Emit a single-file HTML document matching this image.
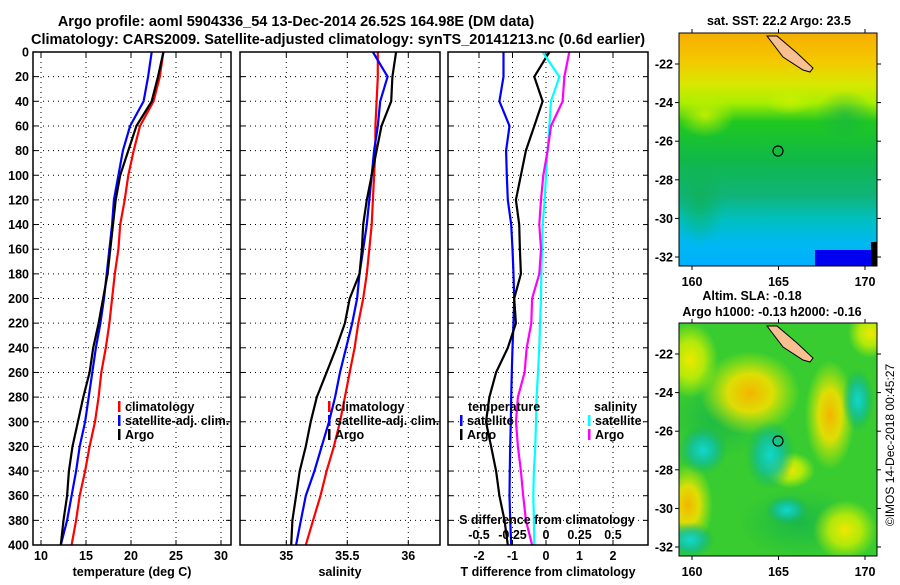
<!DOCTYPE html>
<html><head><meta charset="utf-8"><style>
body{margin:0;background:#fff;width:900px;height:580px;overflow:hidden}
svg text{font-family:"Liberation Sans",Arial,sans-serif;font-weight:bold;fill:#000}
</style></head><body>
<svg id="chart" width="900" height="580" viewBox="0 0 900 580" xmlns="http://www.w3.org/2000/svg">
<defs>
<linearGradient id="sstg" x1="0" y1="0" x2="0" y2="1">
<stop offset="0" stop-color="#f7ae00"/><stop offset="0.12" stop-color="#f4c800"/><stop offset="0.22" stop-color="#d8e800"/><stop offset="0.3" stop-color="#a8ee00"/><stop offset="0.38" stop-color="#20c820"/><stop offset="0.55" stop-color="#10b84a"/><stop offset="0.7" stop-color="#10b47a"/><stop offset="0.8" stop-color="#00c0c0"/><stop offset="0.9" stop-color="#00b8f0"/><stop offset="1" stop-color="#00b0ff"/></linearGradient>
<radialGradient id="yb"><stop offset="0" stop-color="#f4b400"/><stop offset="0.45" stop-color="#f0e000" stop-opacity="0.9"/><stop offset="1" stop-color="#c8f000" stop-opacity="0"/></radialGradient>
<radialGradient id="yl"><stop offset="0" stop-color="#f0e800"/><stop offset="0.5" stop-color="#d0f000" stop-opacity="0.8"/><stop offset="1" stop-color="#c8f000" stop-opacity="0"/></radialGradient>
<radialGradient id="cb"><stop offset="0" stop-color="#10d8d0"/><stop offset="0.5" stop-color="#10c0a0" stop-opacity="0.8"/><stop offset="1" stop-color="#10b060" stop-opacity="0"/></radialGradient>
<radialGradient id="dg"><stop offset="0" stop-color="#10b050"/><stop offset="1" stop-color="#10b050" stop-opacity="0"/></radialGradient>
<radialGradient id="ylg"><stop offset="0" stop-color="#c8f000" stop-opacity="0.9"/><stop offset="1" stop-color="#c8f000" stop-opacity="0"/></radialGradient>
</defs>
<g id="titles">
<text x="296" y="26" font-size="14.5" text-anchor="middle">Argo profile: aoml 5904336_54 13-Dec-2014 26.52S 164.98E (DM data)</text>
<text x="338" y="44" font-size="14.5" text-anchor="middle">Climatology: CARS2009. Satellite-adjusted climatology: synTS_20141213.nc (0.6d earlier)</text>
</g>
<g id="panels"></g>
<g id="maps">
 <text x="779" y="25" font-size="12.5" text-anchor="middle">sat. SST: 22.2 Argo: 23.5</text>
 <rect x="679" y="33" width="198" height="233" fill="url(#sstg)"/>
 <ellipse cx="705" cy="115" rx="30" ry="22" fill="url(#ylg)"/>
 <ellipse cx="790" cy="100" rx="25" ry="15" fill="url(#ylg)"/>
 <ellipse cx="845" cy="115" rx="30" ry="25" fill="url(#dg)" opacity="0.6"/>
 <ellipse cx="700" cy="200" rx="25" ry="45" fill="url(#dg)" opacity="0.7"/>
 <rect x="815" y="250" width="62" height="16" fill="#0000f0"/>
 <rect x="871" y="242" width="6" height="24" fill="#000"/>
 <polygon points="767,36 777,36 797,53 813,68 810,72 803,70 783,57" fill="#f8c090" stroke="#000" stroke-width="1"/>
 <circle cx="778" cy="151" r="5" fill="none" stroke="#000" stroke-width="1.2"/>
 <rect x="679" y="33" width="198" height="233" fill="none" stroke="#000" stroke-width="1"/>
 <text x="752" y="300" font-size="12.5" text-anchor="middle">Altim. SLA: -0.18</text>
 <text x="772" y="316" font-size="12.5" text-anchor="middle">Argo h1000: -0.13 h2000: -0.16</text>
 <svg x="679" y="323" width="198" height="233" overflow="hidden">
 <rect x="0" y="0" width="198" height="233" fill="#38cc30"/>
 <ellipse cx="40" cy="95" rx="50" ry="40" fill="url(#dg)" opacity="0.7"/>
 <ellipse cx="120" cy="200" rx="60" ry="35" fill="url(#dg)" opacity="0.7"/>
 <ellipse cx="71" cy="70" rx="50" ry="42" fill="url(#yb)"/>
 <ellipse cx="151" cy="92" rx="25" ry="55" fill="url(#yb)"/>
 <ellipse cx="11" cy="37" rx="28" ry="38" fill="url(#yl)"/>
 <ellipse cx="9" cy="182" rx="25" ry="42" fill="url(#yb)"/>
 <ellipse cx="166" cy="207" rx="32" ry="30" fill="url(#yl)"/>
 <ellipse cx="191" cy="10" rx="22" ry="25" fill="url(#yl)"/>
 <ellipse cx="111" cy="147" rx="25" ry="18" fill="url(#yl)"/>
 <ellipse cx="24" cy="127" rx="25" ry="25" fill="url(#cb)"/>
 <ellipse cx="91" cy="132" rx="25" ry="35" fill="url(#cb)"/>
 <ellipse cx="179" cy="77" rx="16" ry="32" fill="url(#cb)"/>
 <ellipse cx="11" cy="217" rx="25" ry="18" fill="url(#cb)"/>
 <ellipse cx="108" cy="187" rx="22" ry="15" fill="url(#cb)"/>
 </svg>
 <polygon points="767,326 777,326 797,343 813,358 810,362 803,360 783,347" fill="#f8c090" stroke="#000" stroke-width="1"/>
 <circle cx="778" cy="441" r="5" fill="none" stroke="#000" stroke-width="1.2"/>
 <rect x="679" y="323" width="198" height="233" fill="none" stroke="#000" stroke-width="1"/>
 <text transform="translate(894,445) rotate(-90)" font-size="12" text-anchor="middle" style="font-weight:normal">©IMOS 14-Dec-2018 00:45:27</text>
</g>
</svg>
<script>
const depths=[0,20,40,60,80,100,120,140,160,180,200,220,240,260,280,300,320,340,360,380,400];
const tempClim=[23.6,23.2,22.5,21.0,20.3,19.7,19.3,18.8,18.6,18.2,17.9,17.6,17.2,16.7,16.4,16.0,15.4,14.9,14.3,13.9,13.4];
const tempSat=[22.3,21.9,21.4,19.9,19.1,18.6,18.1,17.9,17.6,17.3,17.0,16.6,16.1,15.7,15.3,14.9,14.3,13.9,13.4,12.9,12.2];
const tempArgo=[23.6,23.0,22.3,20.6,19.7,18.8,18.3,18.0,17.7,17.4,16.9,16.4,15.8,15.4,14.7,14.1,13.5,13.1,12.9,12.5,12.2];
const salClim=[35.75,35.75,35.74,35.73,35.73,35.72,35.71,35.70,35.68,35.66,35.63,35.59,35.56,35.52,35.48,35.44,35.39,35.33,35.28,35.22,35.16];
const salSat=[35.71,35.83,35.77,35.75,35.72,35.70,35.68,35.66,35.63,35.60,35.58,35.54,35.49,35.44,35.40,35.35,35.29,35.23,35.16,35.12,35.08];
const salArgo=[35.90,35.87,35.86,35.78,35.74,35.70,35.66,35.63,35.62,35.60,35.52,35.48,35.41,35.33,35.25,35.20,35.16,35.11,35.08,35.05,35.04];
const tDiffSat=[-1.27,-1.27,-1.39,-1.09,-1.19,-1.17,-1.14,-1.04,-1.0,-0.97,-0.95,-0.97,-1.0,-1.02,-1.04,-1.05,-1.07,-1.08,-1.09,-1.07,-1.04];
const tDiffArgo=[0.1,-0.35,-0.1,-0.35,-0.6,-0.75,-0.9,-0.8,-0.78,-0.75,-0.95,-0.9,-1.14,-1.49,-1.69,-1.79,-1.64,-1.49,-1.39,-1.24,-1.14];
const sDiffSat=[-0.025,0.1,0.037,0.025,0.012,0,-0.01,-0.025,-0.03,-0.035,-0.037,-0.045,-0.05,-0.06,-0.07,-0.075,-0.08,-0.09,-0.095,-0.09,-0.087];
const sDiffArgo=[0.174,0.137,0.124,0.037,0.012,-0.02,-0.037,-0.05,-0.037,-0.05,-0.104,-0.11,-0.144,-0.16,-0.21,-0.224,-0.21,-0.187,-0.17,-0.15,-0.104];
const depthTicks=[0,20,40,60,80,100,120,140,160,180,200,220,240,260,280,300,320,340,360,380,400];
const tempTicks=[10,15,20,25,30];
const salTicks=[35,35.5,36];
const tDiffTicks=[-2,-1,0,1,2];
const sDiffTicks=[-0.5,-0.25,0,0.25,0.5];

const NS='http://www.w3.org/2000/svg';
const root=document.getElementById('panels');
function el(tag,attrs,parent,txt){const e=document.createElementNS(NS,tag);for(const k in attrs)e.setAttribute(k,attrs[k]);if(txt!==undefined)e.textContent=txt;(parent||root).appendChild(e);return e;}
const Y0=52,Y1=545;
function yS(d){return Y0+(d/400)*(Y1-Y0);}
function line(xs,xf,color,name,g){
  const pts=depths.map((d,i)=>xf(xs[i]).toFixed(1)+','+yS(d).toFixed(1)).join(' ');
  const p=el('polyline',{points:pts,fill:'none',stroke:color,'stroke-width':2.2,'stroke-linejoin':'miter'},g);
  
  
}
function panel(x0,x1,lo,hi,ticks,fmt,name,label,showY){
  const g=el('g',{});
  
  
  const xf=v=>x0+(v-lo)/(hi-lo)*(x1-x0);
  el('rect',{x:x0,y:Y0,width:x1-x0,height:Y1-Y0,fill:'#fff'},g);
  depthTicks.forEach(d=>{
    el('line',{x1:x0,x2:x1,y1:yS(d),y2:yS(d),stroke:'#000','stroke-width':1,'stroke-dasharray':'1,4'},g);
    el('line',{x1:x0,x2:x0+5,y1:yS(d),y2:yS(d),stroke:'#000'},g);
    el('line',{x1:x1-5,x2:x1,y1:yS(d),y2:yS(d),stroke:'#000'},g);
    if(showY){const t=el('text',{x:x0-4,y:yS(d)+4.5,'font-size':12.5,'text-anchor':'end'},g,String(d));
      }
  });
  ticks.forEach(v=>{
    el('line',{x1:xf(v),x2:xf(v),y1:Y0,y2:Y1,stroke:'#000','stroke-width':1,'stroke-dasharray':'1,4'},g);
    el('line',{x1:xf(v),x2:xf(v),y1:Y1,y2:Y1-5,stroke:'#000'},g);
    el('line',{x1:xf(v),x2:xf(v),y1:Y0,y2:Y0+5,stroke:'#000'},g);
    const t=el('text',{x:xf(v),y:Y1+15,'font-size':12.5,'text-anchor':'middle'},g,fmt(v));
    
  });
  const t=el('text',{x:(x0+x1)/2,y:Y1+31,'font-size':12.5,'text-anchor':'middle'},g,label);
  
  return {g,xf,x0,x1};
}
function frame(p){el('rect',{x:p.x0,y:Y0,width:p.x1-p.x0,height:Y1-Y0,fill:'none',stroke:'#000','stroke-width':1.5},p.g);}
function legend(g,x,y,items){items.forEach((it,i)=>{
  el('rect',{x:x,y:y+i*14-10,width:2.5,height:11,fill:it[0]},g);
  const t=el('text',{x:x+7,y:y+i*14,'font-size':12.5},g,it[1]);
  });}

const p1=panel(33,231,10-8/9,10+190/9,tempTicks,v=>String(v),'temperature-panel','temperature (deg C)',true);
line(tempClim,p1.xf,'#f00','temp-climatology-line',p1.g);
line(tempSat,p1.xf,'#00f','temp-satellite-line',p1.g);
line(tempArgo,p1.xf,'#000','temp-argo-line',p1.g);
legend(p1.g,118,411,[['#f00','climatology'],['#00f','satellite-adj. clim.'],['#000','Argo']]);
frame(p1);

const p2=panel(240,440,35-46.3/122,35+153.7/122,salTicks,v=>String(v),'salinity-panel','salinity',false);
line(salClim,p2.xf,'#f00','sal-climatology-line',p2.g);
line(salSat,p2.xf,'#00f','sal-satellite-line',p2.g);
line(salArgo,p2.xf,'#000','sal-argo-line',p2.g);
legend(p2.g,328,411,[['#f00','climatology'],['#00f','satellite-adj. clim.'],['#000','Argo']]);
frame(p2);

const p3=panel(448,648,-98/33.5,102/33.5,tDiffTicks,v=>String(v),'difference-panel','T difference from climatology',false);
const sf=v=>546+v*134;
line(tDiffSat,p3.xf,'#00f','tdiff-satellite-line',p3.g);
line(tDiffArgo,p3.xf,'#000','tdiff-argo-line',p3.g);
line(sDiffSat,sf,'#0ff','sdiff-satellite-line',p3.g);
line(sDiffArgo,sf,'#f0f','sdiff-argo-line',p3.g);
const lt=el('text',{x:468,y:411,'font-size':12.5},p3.g,'temperature');

legend(p3.g,460,425,[['#00f','satellite'],['#000','Argo']]);
const ls=el('text',{x:594,y:411,'font-size':12.5},p3.g,'salinity');

legend(p3.g,588,425,[['#0ff','satellite'],['#f0f','Argo']]);
const st=el('text',{x:547,y:524,'font-size':12.5,'text-anchor':'middle'},p3.g,'S difference from climatology');

sDiffTicks.forEach(v=>{
  const t=el('text',{x:sf(v),y:539,'font-size':12.5,'text-anchor':'middle'},p3.g,String(v));
  
});
frame(p3);

const mapsG=document.getElementById('maps');
const lonTicks=[160,165,170];
const latTicks=[-22,-24,-26,-28,-30,-32];
function mapAxes(top){
  const lx=v=>692+(v-160)*17.3;
  const ly=v=>top+31+(-22-v)*19.3;
  lonTicks.forEach(v=>{
    el('line',{x1:lx(v),x2:lx(v),y1:top,y2:top-4,stroke:'#000'},mapsG);
    el('line',{x1:lx(v),x2:lx(v),y1:top+233,y2:top+237,stroke:'#000'},mapsG);
    const t=el('text',{x:lx(v),y:top+253,'font-size':12.5,'text-anchor':'middle'},mapsG,String(v));
    
  });
  latTicks.forEach(v=>{
    el('line',{x1:679,x2:675,y1:ly(v),y2:ly(v),stroke:'#000'},mapsG);
    el('line',{x1:877,x2:881,y1:ly(v),y2:ly(v),stroke:'#000'},mapsG);
    const t=el('text',{x:673,y:ly(v)+4.5,'font-size':12.5,'text-anchor':'end'},mapsG,String(v));
    
  });
}
mapAxes(33);mapAxes(323);
</script>
</body></html>
